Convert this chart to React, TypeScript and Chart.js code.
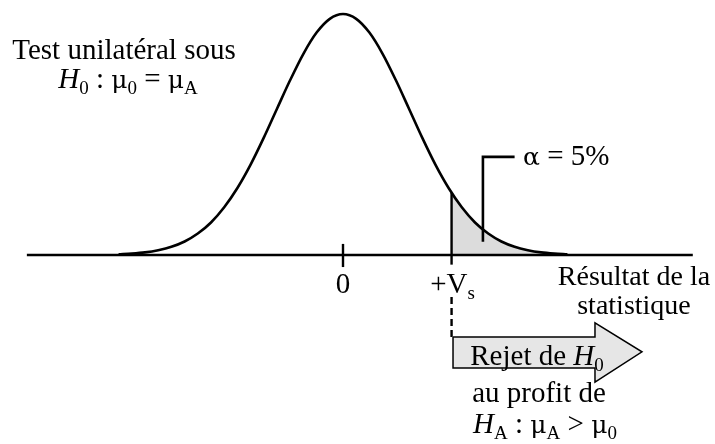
import React, { useEffect, useRef } from "react";
import { Chart, registerables } from "chart.js";

Chart.register(...registerables);

// Standardised statistic values (in sigma units) and the density (peak = 1)
const curveX = [-3.4, -3.2, -3.0, -2.8, -2.6, -2.4, -2.2, -2.0, -1.8, -1.6, -1.4, -1.2, -1.0, -0.8, -0.6, -0.4, -0.2, 0, 0.2, 0.4, 0.6, 0.8, 1.0, 1.2, 1.4, 1.6, 1.8, 2.0, 2.2, 2.4, 2.6, 2.8, 3.0, 3.2, 3.4];
const curveY = [0.003, 0.006, 0.011, 0.02, 0.034, 0.056, 0.089, 0.135, 0.198, 0.278, 0.375, 0.487, 0.607, 0.726, 0.835, 0.923, 0.98, 1, 0.98, 0.923, 0.835, 0.726, 0.607, 0.487, 0.375, 0.278, 0.198, 0.135, 0.089, 0.056, 0.034, 0.02, 0.011, 0.006, 0.003];

// Rejection region (alpha = 5 %) starting at the critical value +Vs
const criticalValue = 1.645;
const tailX = [1.645, 1.8, 2.0, 2.2, 2.4, 2.6, 2.8, 3.0, 3.2, 3.4];
const tailY = [0.258, 0.198, 0.135, 0.089, 0.056, 0.034, 0.02, 0.011, 0.006, 0.003];

// Horizontal axis of the statistic
const axisX = [-4.79, 5.3];
const tickValues = [0, criticalValue];
const tickLabels = ["0", "+V"];

// Pointer to the alpha label
const bracketX = [2.12, 2.12, 2.6];
const bracketY = [0.055, 0.407, 0.407];

// Dashed guide and the "reject" arrow below the axis
const dashY = [-0.174, -0.353];
const arrowX = [1.667, 3.818, 3.818, 4.53, 3.818, 3.818, 1.667, 1.667];
const arrowY = [-0.34, -0.34, -0.282, -0.402, -0.527, -0.469, -0.469, -0.34];

const FONT = '"Liberation Serif", "Times New Roman", serif';
const GREEK = '"DejaVu Serif", "Liberation Serif", serif';
const SIZE = 29;

type Seg = { t: string; i?: boolean; sub?: boolean; g?: boolean };

function drawRich(ctx: CanvasRenderingContext2D, segs: Seg[], x: number, y: number, align: "left" | "center", size = SIZE) {
  const fontFor = (s: Seg) => {
    let px = s.sub ? Math.round(size * 0.64) : size;
    if (s.g) px = Math.round(px * 0.86);
    return `${s.i ? "italic " : ""}${px}px ${s.g ? GREEK : FONT}`;
  };
  const widths = segs.map((s) => {
    ctx.font = fontFor(s);
    return ctx.measureText(s.t).width;
  });
  const total = widths.reduce((a, b) => a + b, 0);
  let cx = align === "center" ? x - total / 2 : x;
  ctx.textAlign = "left";
  ctx.textBaseline = "alphabetic";
  segs.forEach((s, k) => {
    ctx.font = fontFor(s);
    ctx.fillText(s.t, cx, s.sub ? y + size * 0.2 : y);
    cx += widths[k];
  });
}

const textPlugin = {
  id: "annotText",
  afterDatasetsDraw(chart: any) {
    const ctx: CanvasRenderingContext2D = chart.ctx;
    const xs = chart.scales.x;
    ctx.save();
    ctx.fillStyle = "#000";
    drawRich(ctx, [{ t: "Test unilatéral sous" }], 124, 59, "center");
    drawRich(ctx, [{ t: "H", i: true }, { t: "0", sub: true }, { t: " : " }, { t: "μ", g: true }, { t: "0", sub: true }, { t: " = " }, { t: "μ", g: true }, { t: "A", sub: true }], 128, 88, "center");
    drawRich(ctx, [{ t: "α", g: true }, { t: " = 5%" }], 523, 165, "left");
    drawRich(ctx, [{ t: tickLabels[0] }], xs.getPixelForValue(tickValues[0]), 293, "center");
    drawRich(ctx, [{ t: tickLabels[1] }, { t: "s", sub: true }], xs.getPixelForValue(tickValues[1]) + 1, 293, "center");
    drawRich(ctx, [{ t: "Résultat de la" }], 634, 285, "center", 28);
    drawRich(ctx, [{ t: "statistique" }], 634, 314, "center", 28);
    drawRich(ctx, [{ t: "Rejet de " }, { t: "H", i: true }, { t: "0", sub: true }], 537, 365, "center");
    drawRich(ctx, [{ t: "au profit de" }], 539, 402, "center");
    drawRich(ctx, [{ t: "H", i: true }, { t: "A", sub: true }, { t: " : " }, { t: "μ", g: true }, { t: "A", sub: true }, { t: " > " }, { t: "μ", g: true }, { t: "0", sub: true }], 545, 433, "center");
    ctx.restore();
  },
};

const pts = (xs: number[], ys: number[]) => xs.map((x, k) => ({ x, y: ys[k] }));

export default function App() {
  const ref = useRef<HTMLCanvasElement | null>(null);

  useEffect(() => {
    document.body.style.margin = "0";
    const canvas = ref.current;
    if (!canvas) return;
    const black = "#000000";
    const chart = new Chart(canvas, {
      type: "line",
      data: {
        datasets: [
          {
            label: "alpha",
            data: pts(tailX, tailY),
            borderWidth: 0,
            borderColor: "rgba(0,0,0,0)",
            backgroundColor: "#dcdcdc",
            fill: "origin",
            cubicInterpolationMode: "monotone",
            order: 10,
          },
          {
            label: "arrow",
            data: pts(arrowX, arrowY),
            borderWidth: 1.5,
            borderColor: black,
            backgroundColor: "#e6e6e6",
            fill: "shape",
            tension: 0,
            order: 9,
          },
          {
            label: "density",
            data: pts(curveX, curveY),
            borderWidth: 2.6,
            borderColor: black,
            fill: false,
            cubicInterpolationMode: "monotone",
            order: 1,
          },
          {
            label: "axis",
            data: pts(axisX, [0, 0]),
            borderWidth: 2.6,
            borderColor: black,
            fill: false,
            order: 1,
          },
          {
            label: "tick0",
            data: pts([tickValues[0], tickValues[0]], [-0.05, 0.046]),
            borderWidth: 2.4,
            borderColor: black,
            fill: false,
            order: 1,
          },
          {
            label: "Vs",
            data: pts([criticalValue, criticalValue], [-0.04, tailY[0]]),
            borderWidth: 2.4,
            borderColor: black,
            fill: false,
            order: 1,
          },
          {
            label: "dash",
            data: pts([criticalValue, criticalValue], dashY),
            borderWidth: 2.4,
            borderColor: black,
            borderDash: [7, 4],
            fill: false,
            order: 1,
          },
          {
            label: "bracket",
            data: pts(bracketX, bracketY),
            borderWidth: 2.6,
            borderColor: black,
            fill: false,
            order: 1,
          },
        ],
      },
      options: {
        responsive: false,
        animation: false,
        devicePixelRatio: 1,
        layout: { padding: 0 },
        elements: { point: { radius: 0, hoverRadius: 0 } },
        plugins: { legend: { display: false }, tooltip: { enabled: false } },
        scales: {
          x: { type: "linear", min: -343 / 66, max: 372 / 66, display: false },
          y: { type: "linear", min: -189 / 241, max: 255 / 241, display: false },
        },
      },
      plugins: [textPlugin],
    } as any);
    return () => chart.destroy();
  }, []);

  return (
    <div style={{ width: 715, height: 444, background: "#fff" }}>
      <canvas ref={ref} width={715} height={444} />
    </div>
  );
}
